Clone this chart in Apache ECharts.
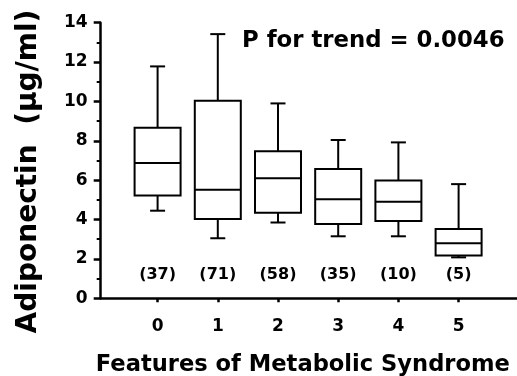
<!DOCTYPE html>
<html>
<head>
	<meta charset="utf-8">
	<title>Adiponectin vs Metabolic Syndrome</title>
	<script src="https://cdn.jsdelivr.net/npm/echarts@6/dist/echarts.min.js"></script>
	<style type="text/css">
		html, body { margin: 0; padding: 0; background: #ffffff; }
		#chartContainer { width: 517px; height: 376px; }
	</style>
</head>
<body>
	<div id="chartContainer"></div>
	<script type="text/javascript">
		// number of features (x categories)
		var categories = [0, 1, 2, 3, 4, 5];
		// box plot values
		var whiskerLow  = [4.45, 3.05, 3.85, 3.15, 3.15, 2.08];
		var quartile1   = [5.22, 4.03, 4.35, 3.77, 3.93, 2.17];
		var medians     = [6.87, 5.52, 6.10, 5.03, 4.90, 2.80];
		var quartile3   = [8.66, 10.04, 7.47, 6.57, 5.99, 3.52];
		var whiskerHigh = [11.78, 13.42, 9.90, 8.04, 7.92, 5.80];
		var counts = ['(37)', '(71)', '(58)', '(35)', '(10)', '(5)'];
		var countLevel = 1.2;
		var yTicks = [0, 2, 4, 6, 8, 10, 12, 14];

		var FONT = 'DejaVu Sans';

		var boxData = categories.map(function (c, i) {
			return [c, whiskerLow[i], quartile1[i], medians[i], quartile3[i], whiskerHigh[i], counts[i]];
		});

		function renderBox(params, api) {
			var x = api.value(0);
			var low = api.coord([x, api.value(1)]);
			var q1 = api.coord([x, api.value(2)]);
			var med = api.coord([x, api.value(3)]);
			var q3 = api.coord([x, api.value(4)]);
			var high = api.coord([x, api.value(5)]);
			var lab = api.coord([x, countLevel]);
			var cx = med[0];
			var half = 23, cap = 7.5;
			var st = { stroke: '#000', lineWidth: 2, fill: null };
			return {
				type: 'group',
				children: [
					{ type: 'line', shape: { x1: cx, y1: q3[1], x2: cx, y2: high[1] }, style: st },
					{ type: 'line', shape: { x1: cx - cap, y1: high[1], x2: cx + cap, y2: high[1] }, style: st },
					{ type: 'line', shape: { x1: cx, y1: q1[1], x2: cx, y2: low[1] }, style: st },
					{ type: 'line', shape: { x1: cx - cap, y1: low[1], x2: cx + cap, y2: low[1] }, style: st },
					{ type: 'rect', shape: { x: cx - half, y: q3[1], width: half * 2, height: q1[1] - q3[1] },
						style: { stroke: '#000', lineWidth: 2, fill: '#fff' } },
					{ type: 'line', shape: { x1: cx - half, y1: med[1], x2: cx + half, y2: med[1] }, style: st },
					{ type: 'text', x: cx, y: lab[1], style: {
						text: api.value(6), font: 'bold 16px "' + FONT + '"',
						fill: '#000', align: 'center', verticalAlign: 'middle' } }
				]
			};
		}

		var myChart = echarts.init(document.getElementById('chartContainer'));
		var option = {
			backgroundColor: '#ffffff',
			animation: false,
			title: {
				text: 'P for trend = 0.0046',
				left: 237,
				top: 25,
				textStyle: { fontFamily: FONT, fontWeight: 'bold', fontSize: 22.8, color: '#000' }
			},
			grid: { left: 100.7, right: 0, top: 22.7, bottom: 77.7, containLabel: false, outerBoundsMode: 'none' },
			xAxis: {
				type: 'value',
				min: -0.945,
				max: 5.97,
				name: 'Features of Metabolic Syndrome',
				nameLocation: 'middle',
				nameGap: 55,
				nameTextStyle: { fontFamily: FONT, fontWeight: 'bold', fontSize: 22.6, color: '#000', padding: [0, 12, 0, 0] },
				splitLine: { show: false },
				axisLine: { onZero: false, lineStyle: { color: '#000', width: 2.5 } },
				axisTick: { customValues: categories, length: 4, lineStyle: { color: '#000', width: 2.5 } },
				axisLabel: {
					customValues: categories,
					margin: 20,
					fontFamily: FONT, fontWeight: 'bold', fontSize: 17, color: '#000'
				}
			},
			yAxis: {
				type: 'value',
				min: 0,
				max: 14,
				interval: 2,
				name: 'Adiponectin  (µg/ml)',
				nameLocation: 'middle',
				nameRotate: 90,
				nameGap: 58,
				nameTextStyle: { fontFamily: FONT, fontWeight: 'bold', fontSize: 28, color: '#000', padding: [0, 22, 0, 0] },
				splitLine: { show: false },
				axisLine: { show: true, onZero: false, lineStyle: { color: '#000', width: 2.5 } },
				axisTick: { show: true, length: 7, lineStyle: { color: '#000', width: 2.5 } },
				minorTick: { show: true, splitNumber: 2, length: 4, lineStyle: { color: '#000', width: 2 } },
				axisLabel: {
					margin: 13,
					customValues: yTicks,
					fontFamily: FONT, fontWeight: 'bold', fontSize: 17, color: '#000'
				}
			},
			series: [{
				type: 'custom',
				renderItem: renderBox,
				encode: { x: 0, y: [1, 2, 3, 4, 5] },
				data: boxData
			}]
		};
		myChart.setOption(option);
	</script>
</body>
</html>
